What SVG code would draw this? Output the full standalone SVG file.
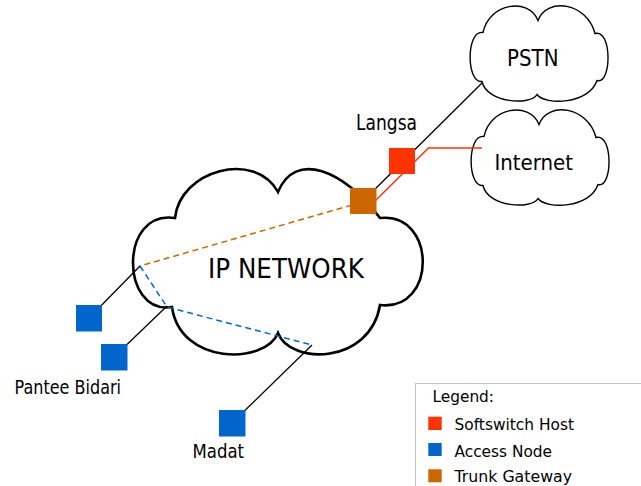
<svg xmlns="http://www.w3.org/2000/svg" width="641" height="486" viewBox="0 0 641 486">
<style>
text{font-family:"DejaVu Sans","Liberation Sans",sans-serif;fill:#000}
.cloud{fill:#fff;stroke:#000}
.conn{fill:none;stroke:#000;stroke-width:1.3}
.dash{fill:none;stroke-width:1.5;stroke-dasharray:6 4}
.ss{fill:#FF3300}
.an{fill:#0066CC}
.tg{fill:#CC6600}
</style>
<defs>
<path id="smallCloud" d="M-56,-21 C-50,-50 -11,-57 -1,-33 C8,-57 48,-51 56,-20 C73,-25 73,31 58,27 C50,51 6,52 -2,41 C-8,52 -52,50 -57,28 C-73,30 -73,-24 -56,-21 Z"/>
</defs>
<rect width="641" height="486" fill="#fff"/>
<g id="ip-network">
<path class="cloud" stroke-width="2.6" d="M175,218 C180,170 255,150 278,192 C295,150 344,170 380,218 C437,212 437,312 380,305 C370,365 290,365 278,333 C265,365 180,365 172,307 C120,315 119,209 175,218 Z"/>
<text x="208" y="278.3" font-size="26" textLength="156" lengthAdjust="spacingAndGlyphs">IP NETWORK</text>
</g>
<g id="pstn">
<use href="#smallCloud" class="cloud" stroke-width="1.4" transform="translate(539,53.5)"/>
<text x="507" y="65.7" font-size="23" textLength="51.5" lengthAdjust="spacingAndGlyphs">PSTN</text>
</g>
<g id="internet">
<use href="#smallCloud" class="cloud" stroke-width="1.4" transform="translate(540,157.5)"/>
<text x="494.5" y="170" font-size="22" textLength="78.5" lengthAdjust="spacingAndGlyphs">Internet</text>
</g>
<g id="connectors">
<line class="conn" x1="482" y1="83" x2="363" y2="201"/>
<polyline fill="none" stroke="#FF3300" stroke-width="1.4" points="482,148 428.5,148 371,205"/>
<line class="dash" stroke="#CC6600" x1="352" y1="205" x2="140" y2="266"/>
<polyline class="dash" stroke="#0066CC" points="140,266 167,307 312,345"/>
<line class="conn" x1="140" y1="266" x2="89" y2="318"/>
<line class="conn" x1="167" y1="306" x2="114" y2="357"/>
<line class="conn" x1="312" y1="345" x2="232" y2="423"/>
</g>
<g id="softswitch-langsa">
<rect class="ss" x="389" y="148" width="26" height="26"/>
<text x="356" y="130" font-size="20.5" textLength="61" lengthAdjust="spacingAndGlyphs">Langsa</text>
</g>
<g id="trunk-gateway">
<rect class="tg" x="350" y="188" width="26.5" height="26"/>
</g>
<g id="access-node-1">
<rect class="an" x="76" y="305" width="26" height="26.5"/>
</g>
<g id="access-node-pantee-bidari">
<rect class="an" x="101" y="344" width="26.5" height="26.5"/>
<text x="14.5" y="394.3" font-size="19.5" textLength="106.5" lengthAdjust="spacingAndGlyphs">Pantee Bidari</text>
</g>
<g id="access-node-madat">
<rect class="an" x="219" y="410" width="26.5" height="26.5"/>
<text x="192.5" y="458" font-size="19.5" textLength="51.5" lengthAdjust="spacingAndGlyphs">Madat</text>
</g>
<g id="legend">
<rect x="415.5" y="383.5" width="240" height="120" fill="#fff" stroke="#c4c4c4" stroke-width="1"/>
<text x="432.5" y="402.3" font-size="16.5" textLength="61.5" lengthAdjust="spacingAndGlyphs">Legend:</text>
<rect class="ss" x="428.3" y="416.7" width="13.4" height="13.3"/>
<text x="454.5" y="430" font-size="16.5" textLength="119.5" lengthAdjust="spacingAndGlyphs">Softswitch Host</text>
<rect class="an" x="428.3" y="443" width="13.4" height="13"/>
<text x="454.5" y="456.7" font-size="16.5" textLength="97.5" lengthAdjust="spacingAndGlyphs">Access Node</text>
<rect class="tg" x="428.3" y="469.3" width="13.4" height="13"/>
<text x="454.5" y="481.7" font-size="16.5" textLength="117.5" lengthAdjust="spacingAndGlyphs">Trunk Gateway</text>
</g>
</svg>
